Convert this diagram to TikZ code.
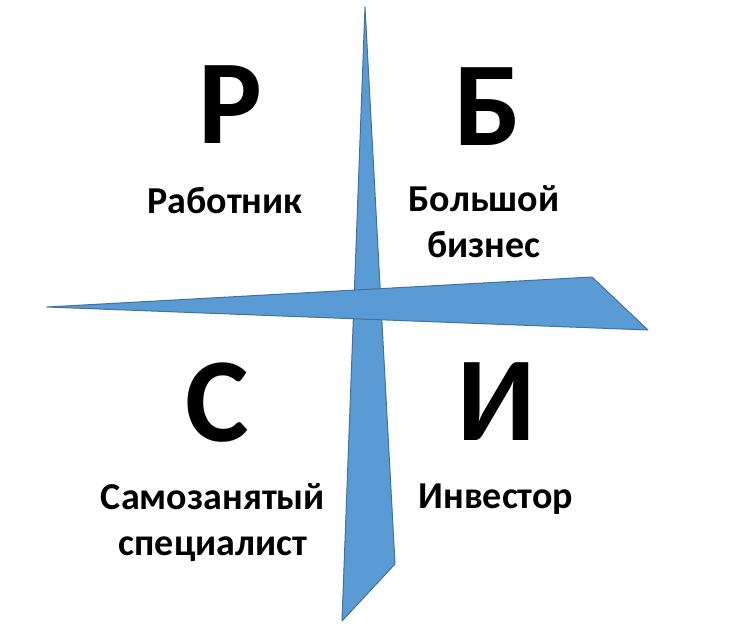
\documentclass[tikz,border=0pt]{standalone}
\usepackage{fontspec}
\setmainfont{Carlito}
\usetikzlibrary{positioning}
\definecolor{crossblue}{RGB}{91,155,213}
\definecolor{crossedge}{RGB}{65,113,156}

\begin{document}
\begin{tikzpicture}[x=1pt, y=-1pt,
    arm/.style={fill=crossblue, draw=crossedge, line width=1pt, line join=round},
    letter/.style={font=\fontsize{120}{120}\selectfont\bfseries, inner sep=0pt, anchor=base},
    caption/.style={font=\fontsize{38}{45.5}\selectfont\bfseries, inner sep=0pt, anchor=base, align=center}]
    \useasboundingbox (0, 0) rectangle (731, 629);

    % the cross: vertical arm first, horizontal arm over it
    \coordinate (Vtop) at (365, 7);
    \coordinate (Vright) at (395, 564);
    \coordinate (Vbottom) at (342, 621);
    \coordinate (Hleft) at (47, 307);
    \coordinate (Htop) at (592, 277);
    \coordinate (Hright) at (648, 330);
    \draw[arm] (Vtop) -- (Vright) -- (Vbottom) -- cycle;
    \draw[arm] (Hleft) -- (Htop) -- (Hright) -- cycle;

    % quadrant letters
    \node[letter] (R) at (230, 143) {Р};
    \node[letter] (B) at (488, 145) {Б};
    \node[letter] (S) at (217, 441) {С};
    \node[letter] (I) at (497, 440) {И};

    % quadrant captions (two-line ones sit on their last baseline)
    \node[caption] (Rtext) at (225, 213) {Работник};
    \node[caption] (Btext) at (484, 257) {Большой\\бизнес};
    \node[caption] (Stext) at (213, 555) {Самозанятый\\специалист};
    \node[caption] (Itext) at (496, 508) {Инвестор};
\end{tikzpicture}
\end{document}
